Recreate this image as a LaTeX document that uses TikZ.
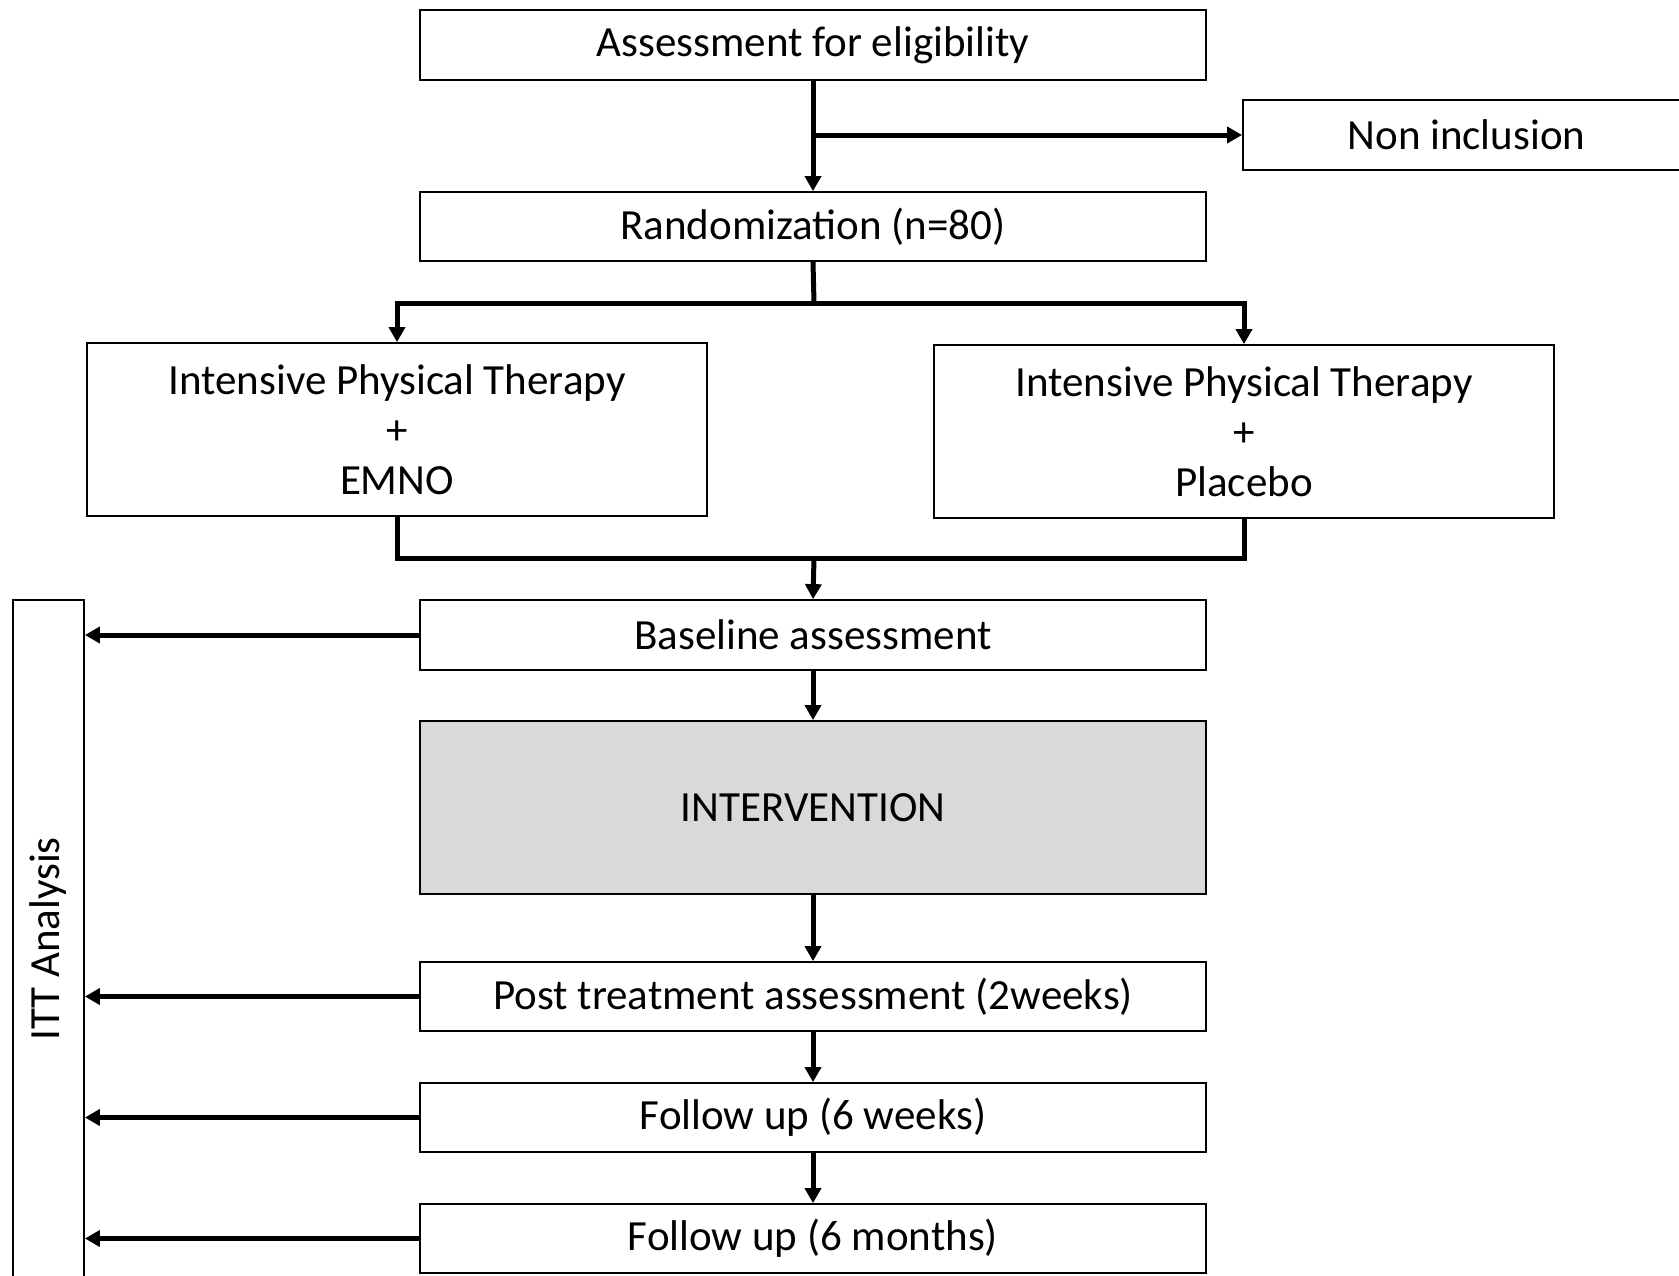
\documentclass[tikz,border=0pt]{standalone}
\usepackage{fontspec}
\setmainfont{Carlito}
\usetikzlibrary{arrows.meta}
\begin{document}
\begin{tikzpicture}[x=1pt,y=-1pt,
  box/.style={draw=black,line width=1.8pt,rectangle,inner sep=0pt,align=center,
    font=\fontsize{43}{50}\selectfont},
  conn/.style={line width=5pt},
  arr/.style={line width=5pt,-{Triangle[length=15pt,width=16pt]}},
  arrs/.style={line width=5pt,-{Triangle[length=15pt,width=16pt]}}]
\clip (0,0) rectangle (1679,1275);
\fill[white] (0,0) rectangle (1679,1275);
\node[box,minimum width=786pt,minimum height=70pt] (assess) at (813,45) {Assessment for eligibility};
\node[box,minimum width=447pt,minimum height=70pt] (nonincl) at (1466.5,135) {Non inclusion};
\node[box,minimum width=786pt,minimum height=69pt] (random) at (813,226.5) {Randomization (n=80)};
\node[box,minimum width=620pt,minimum height=173pt] (left) at (397,429.5) {Intensive Physical Therapy\\+\\EMNO};
\node[box,minimum width=620pt,minimum height=173pt] (right) at (1244,431.5) {Intensive Physical Therapy\\+\\Placebo};
\node[box,minimum width=786pt,minimum height=70pt] (base) at (813,635) {Baseline assessment};
\node[box,minimum width=786pt,minimum height=173pt,fill={rgb,255:red,217;green,217;blue,217}] (interv) at (813,807.5) {INTERVENTION};
\node[box,minimum width=786pt,minimum height=69pt] (post) at (813,996.5) {Post treatment assessment (2weeks)};
\node[box,minimum width=786pt,minimum height=69pt] (fu6w) at (813,1117.5) {Follow up (6 weeks)};
\node[box,minimum width=786pt,minimum height=69pt] (fu6m) at (813,1238.5) {Follow up (6 months)};
\node[box,minimum width=690pt,minimum height=71pt,rotate=90] (itt) at (48.5,945) {\hspace*{12pt}ITT Analysis};
% connectors
\coordinate (br) at (assess.south |- nonincl.west);
\draw[arr] (assess.south) -- (random.north);
\draw[arrs] (br) -- (nonincl.west);
\coordinate (sp) at (814,303);
\draw[conn] (random.south) -- (sp);
\draw[arr] (sp) -| (left.north);
\draw[arr] (sp) -| (right.north);
\coordinate (mg) at (814,558);
\draw[conn] (left.south) |- (mg) -| (right.south);
\draw[arr] (mg) -- (base.north);
\draw[arr] (base.south) -- (interv.north);
\draw[arr] (interv.south) -- (post.north);
\draw[arr] (post.south) -- (fu6w.north);
\draw[arr] (fu6w.south) -- (fu6m.north);
\draw[arrs] (base.west) -- (itt.south |- base.west);
\draw[arrs] (post.west) -- (itt.south |- post.west);
\draw[arrs] (fu6w.west) -- (itt.south |- fu6w.west);
\draw[arrs] (fu6m.west) -- (itt.south |- fu6m.west);
\end{tikzpicture}
\end{document}
